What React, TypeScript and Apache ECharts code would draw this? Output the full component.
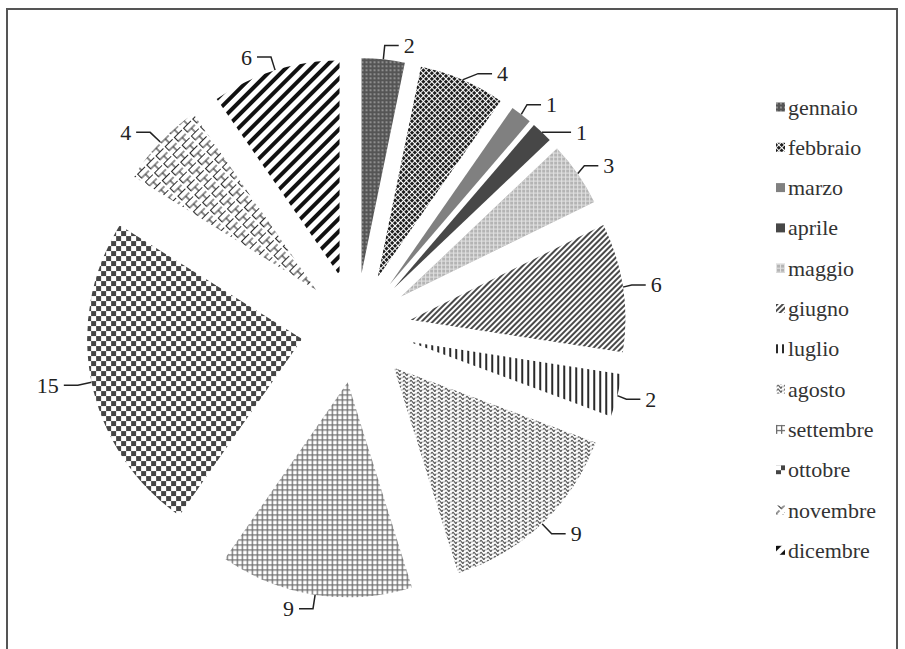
import React, { useEffect, useRef } from "react";
import * as echarts from "echarts";

const months = [
  "gennaio", "febbraio", "marzo", "aprile", "maggio", "giugno",
  "luglio", "agosto", "settembre", "ottobre", "novembre", "dicembre",
];
const counts = [2, 4, 1, 1, 3, 6, 2, 9, 9, 15, 4, 6];

const FONT = "Liberation Serif";

const GRID_PATH = "path://M0,0 H10 V2.6 H2.6 V10 H0 Z";
const BRICK_PATH =
  "path://M0,0 H10 V1 H1 V5 H10 V6 H6 V10 H5 V6 H0 Z";
const WAVE_PATH =
  "path://M0,2 C2,-0.6 2,-0.6 4,2 C6,4.6 6,4.6 8,2 L8,3.8 C6,6.4 6,6.4 4,3.8 C2,1.2 2,1.2 0,3.8 Z";

const styles: any[] = [
  // gennaio
  { color: "#555555", decal: { symbol: "circle", symbolSize: 0.75, dashArrayX: [1.6, 1.6], dashArrayY: [1.6, 1.6], color: "rgba(255,255,255,0.65)" } },
  // febbraio
  { color: "#ffffff", decal: { symbol: "rect", symbolSize: 1, dashArrayX: [2.4, 1], dashArrayY: [2.4, 1], rotation: Math.PI / 4, color: "#1e1e1e" } },
  // marzo
  { color: "#808080" },
  // aprile
  { color: "#474747" },
  // maggio
  { color: "#b4b4b4", decal: { symbol: GRID_PATH, symbolSize: 1, dashArrayX: [4, 0], dashArrayY: [4, 0], color: "#e2e2e2" } },
  // giugno
  { color: "#ffffff", decal: { symbol: "rect", symbolSize: 1, dashArrayX: [1.2, 1.8], dashArrayY: [10, 0], rotation: Math.PI / 4, color: "#4a4a4a" } },
  // luglio
  { color: "#ffffff", decal: { symbol: "rect", symbolSize: 1, dashArrayX: [2, 4], dashArrayY: [10, 0], color: "#2a2a2a" } },
  // agosto
  { color: "#ffffff", decal: { symbol: WAVE_PATH, symbolSize: 1, dashArrayX: [7, 0], dashArrayY: [4, 0], color: "#222" } },
  // settembre
  { color: "#ffffff", decal: { symbol: GRID_PATH, symbolSize: 1, dashArrayX: [5, 0], dashArrayY: [5, 0], color: "#6e6e6e" } },
  // ottobre
  { color: "#ffffff", decal: { symbol: "rect", symbolSize: 1, dashArrayX: [[4.5, 4.5], [0, 4.5, 4.5, 0]], dashArrayY: [4.5, 0], color: "#454545" } },
  // novembre
  { color: "#ffffff", decal: { symbol: BRICK_PATH, symbolSize: 1, dashArrayX: [13, 0], dashArrayY: [11, 0], rotation: -Math.PI / 4, color: "#2a2a2a" } },
  // dicembre
  { color: "#ffffff", decal: { symbol: "rect", symbolSize: 1, dashArrayX: [3.5, 5], dashArrayY: [10, 0], rotation: Math.PI / 4, color: "#111" } },
];

export default function App() {
  const ref = useRef<HTMLDivElement>(null);
  useEffect(() => {
    if (!ref.current) return;
    const chart = echarts.init(ref.current, undefined, { renderer: "svg" });
    const data = months.map((m, i) => ({
      name: m,
      value: counts[i],
      selected: true,
      itemStyle: styles[i],
    }));
    chart.setOption({
      animation: false,
      backgroundColor: "#ffffff",
      graphic: [
        {
          type: "rect",
          shape: { x: 7, y: 9, width: 890, height: 660 },
          style: { fill: "none", stroke: "#555", lineWidth: 2 },
          silent: true,
        },
      ],
      legend: {
        orient: "vertical",
        left: 771,
        top: 91,
        itemWidth: 9,
        itemHeight: 9,
        itemGap: 18.3,
        icon: "rect",
        selectedMode: false,
        textStyle: {
          fontFamily: FONT,
          fontSize: 22,
          color: "#333",
          lineHeight: 22,
          padding: [0, 0, 0, -2],
        },
        data: months,
      },
      series: [
        {
          type: "pie",
          center: [356, 328],
          radius: [0, 215],
          startAngle: 90,
          clockwise: true,
          selectedMode: "multiple",
          selectedOffset: 55,
          avoidLabelOverlap: true,
          silent: true,
          label: {
            show: true,
            position: "outside",
            formatter: "{c}",
            fontFamily: FONT,
            fontSize: 22,
            color: "#222",
          },
          labelLine: {
            show: true,
            length: 14,
            length2: 14,
            lineStyle: { color: "#222", width: 1.5 },
          },
          emphasis: { disabled: true },
          data,
        },
      ],
    });
    return () => chart.dispose();
  }, []);
  return (
    <div
      ref={ref}
      style={{ position: "fixed", left: 0, top: 0, width: 905, height: 649 }}
    />
  );
}
